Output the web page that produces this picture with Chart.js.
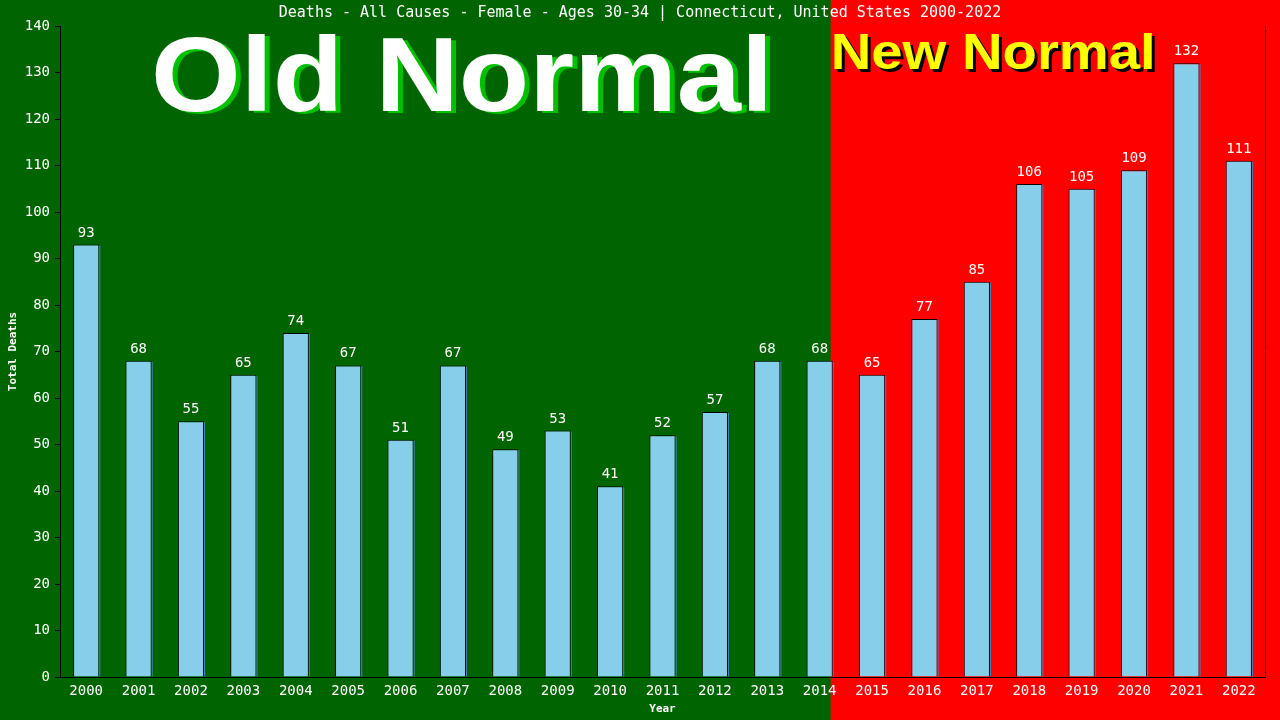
<!DOCTYPE html>
<html>
<head>
<meta charset="utf-8">
<script src="https://cdn.jsdelivr.net/npm/chart.js@4.4.1/dist/chart.umd.min.js"></script>
<style>
  html, body { margin: 0; padding: 0; background: #006400; }
  #wrap { width: 1280px; height: 720px; }
</style>
</head>
<body>
<div id="wrap"><canvas id="deaths-chart" width="1280" height="720"></canvas></div>
<script>
const years = ['2000', '2001', '2002', '2003', '2004', '2005', '2006', '2007', '2008', '2009', '2010', '2011',
    '2012', '2013', '2014', '2015', '2016', '2017', '2018', '2019', '2020', '2021', '2022'];
const deaths = [93, 68, 55, 65, 74, 67, 51, 67, 49, 53, 41, 52, 57, 68, 68, 65, 77, 85, 106, 105, 109, 132, 111];
const yTicks = [0, 10, 20, 30, 40, 50, 60, 70, 80, 90, 100, 110, 120, 130, 140];

const chartTitle = 'Deaths - All Causes - Female - Ages 30-34 | Connecticut, United States 2000-2022';
const oldLabel = 'Old Normal';
const newLabel = 'New Normal';
const lastOldYear = '2014';

const mono = '"DejaVu Sans Mono", "Liberation Mono", monospace';

// draws text squeezed/stretched to a given width
function fitText(ctx, text, x, y, width) {
    const w = ctx.measureText(text).width;
    ctx.save();
    ctx.translate(x, y);
    ctx.scale(width / w, 1);
    ctx.fillText(text, 0, 0);
    ctx.restore();
}

const backdropPlugin = {
    id: 'backdrop',
    beforeDraw(chart) {
        const ctx = chart.ctx;
        const x = chart.scales.x;
        const split = x.getPixelForValue(years.indexOf(lastOldYear)) + 11;
        ctx.save();
        ctx.fillStyle = '#006400';
        ctx.fillRect(0, 0, split, chart.height);
        ctx.fillStyle = '#ff0000';
        ctx.fillRect(split, 0, chart.width - split, chart.height);

        // title
        ctx.fillStyle = '#ffffff';
        ctx.font = '15px ' + mono;
        ctx.textAlign = 'center';
        ctx.textBaseline = 'middle';
        ctx.fillText(chartTitle, chart.width / 2, 13);

        // Old Normal
        ctx.textAlign = 'left';
        ctx.textBaseline = 'alphabetic';
        ctx.font = 'bold 105px "Liberation Sans", Arial, sans-serif';
        ctx.fillStyle = '#00c000';
        fitText(ctx, oldLabel, 156, 113, 622);
        ctx.fillStyle = '#ffffff';
        fitText(ctx, oldLabel, 151, 111, 622);

        // New Normal
        ctx.font = 'bold 50px "Liberation Sans", Arial, sans-serif';
        ctx.fillStyle = '#000000';
        fitText(ctx, newLabel, split + 3, 72, 325);
        ctx.fillStyle = '#ffff00';
        fitText(ctx, newLabel, split, 69, 325);
        ctx.restore();
    },
    afterDatasetsDraw(chart) {
        const ctx = chart.ctx;
        const meta = chart.getDatasetMeta(0);
        ctx.save();
        ctx.font = '14px ' + mono;
        ctx.textAlign = 'center';
        ctx.textBaseline = 'alphabetic';
        meta.data.forEach((bar, i) => {
            // thin blue edge on the right side of every bar
            ctx.fillStyle = '#4682b4';
            ctx.fillRect(bar.x + bar.width / 2, bar.y + 1, 1, bar.base - bar.y - 1);
            ctx.fillStyle = '#ffffff';
            ctx.fillText(String(deaths[i]), bar.x, bar.y - 8);
        });
        ctx.restore();
    },
    afterDraw(chart) {
        const ctx = chart.ctx;
        const area = chart.chartArea;
        ctx.save();
        ctx.strokeStyle = '#000000';
        ctx.lineWidth = 1;
        ctx.beginPath();
        ctx.moveTo(Math.round(area.right) + 0.5, area.top);
        ctx.lineTo(Math.round(area.right) + 0.5, area.bottom);
        ctx.stroke();
        ctx.restore();
    }
};

const ctxDeaths = document.getElementById('deaths-chart').getContext('2d');
const deathsChart = new Chart(ctxDeaths, {
    type: 'bar',
    data: {
        labels: years,
        datasets: [{
            label: 'Total Deaths',
            data: deaths,
            backgroundColor: '#87ceeb',
            borderColor: '#000000',
            borderWidth: { left: 1, top: 1, right: 1, bottom: 0 },
            borderSkipped: false,
            categoryPercentage: 1,
            barPercentage: 0.5
        }]
    },
    options: {
        responsive: false,
        animation: false,
        devicePixelRatio: 1,
        layout: { padding: { top: 26, right: 15, left: 0, bottom: 0 } },
        plugins: {
            legend: { display: false },
            title: { display: false },
            tooltip: { enabled: false }
        },
        scales: {
            x: {
                afterFit(scale) { scale.height = 43; },
                grid: { display: false, drawTicks: false },
                border: { display: true, color: '#000000', width: 1 },
                ticks: { color: '#ffffff', font: { family: mono, size: 14 }, padding: 6, maxRotation: 0 },
                title: {
                    display: true,
                    text: 'Year',
                    color: '#ffffff',
                    font: { family: mono, size: 11, weight: 'bold' },
                    padding: { top: 0, bottom: 4 }
                }
            },
            y: {
                min: 0,
                max: 140,
                afterFit(scale) { scale.width = 60; },
                afterBuildTicks(scale) { scale.ticks = yTicks.map(v => ({ value: v })); },
                grid: { display: true, drawOnChartArea: false, drawTicks: true, tickLength: 5, color: '#000000' },
                border: { display: true, color: '#000000', width: 1 },
                ticks: { color: '#ffffff', font: { family: mono, size: 14 }, padding: 5 },
                title: {
                    display: true,
                    text: 'Total Deaths',
                    color: '#ffffff',
                    font: { family: mono, size: 11, weight: 'bold' },
                    padding: { top: 7, bottom: 0 }
                }
            }
        }
    },
    plugins: [backdropPlugin]
});
</script>
</body>
</html>
